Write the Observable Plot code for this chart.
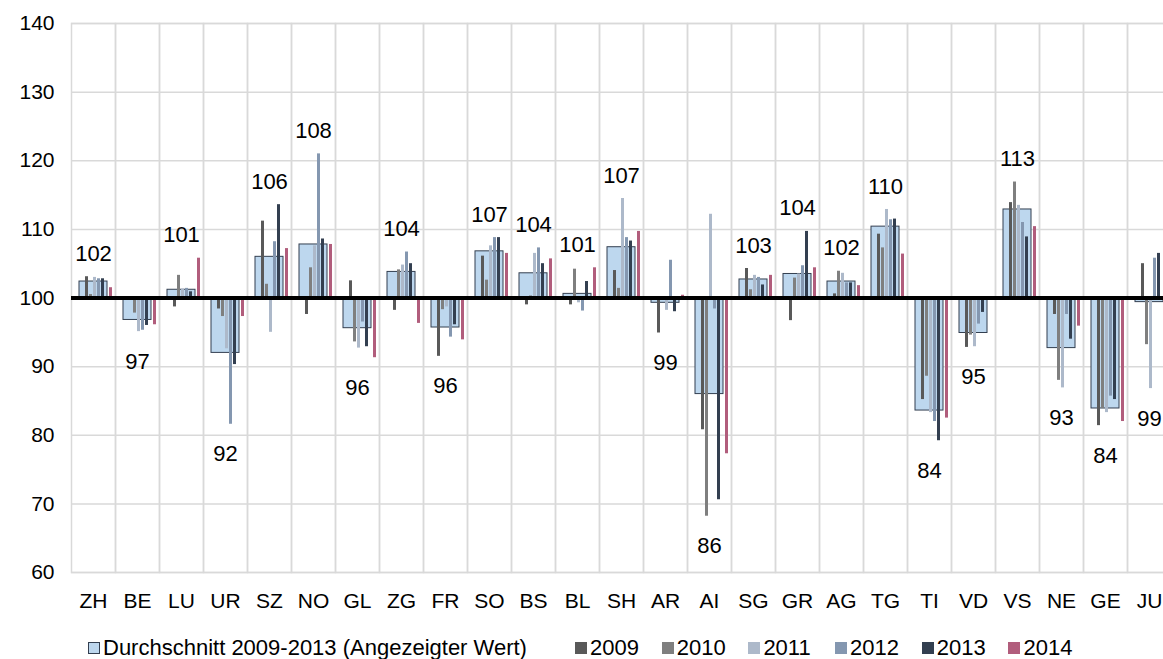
<!DOCTYPE html>
<html><head><meta charset="utf-8">
<script src="https://cdn.jsdelivr.net/npm/d3@7"></script>
<script src="https://cdn.jsdelivr.net/npm/@observablehq/plot@0.6"></script>
<style>
html,body{margin:0;padding:0;background:#fff;overflow:hidden;width:1163px;height:659px}
#wrap{position:relative;width:1163px;height:659px;overflow:hidden;font-family:"Liberation Sans",Arial,sans-serif}
#chart{width:1176px}
#legend{position:absolute;left:88px;top:636px;height:24px;display:flex;align-items:center;font-size:22px;color:#000;white-space:nowrap}
.item{display:flex;align-items:center}
.sw{width:12px;height:12px;margin-right:3px;box-sizing:border-box;flex:none}
</style></head><body><div id="wrap"><div id="chart"></div><div id="legend"></div></div>
<script>
const cantons = ["ZH","BE","LU","UR","SZ","NO","GL","ZG","FR","SO","BS","BL","SH","AR","AI","SG","GR","AG","TG","TI","VD","VS","NE","GE","JU"];
const avgLabel = "Durchschnitt 2009-2013 (Angezeigter Wert)";
const avg   = [102.4, 96.8, 101.2, 92.0, 106.0, 107.8, 95.6, 103.8, 95.7, 106.8, 103.6, 100.6, 107.4, 99.3, 86.0, 102.7, 103.5, 102.4, 110.4, 83.6, 94.9, 112.9, 92.7, 83.9, 99.4];
const v2009 = [103.1, 99.7, 98.7, 98.4, 111.2, 97.6, 102.5, 98.2, 91.5, 106.1, 99.0, 99.0, 104.0, 94.9, 80.8, 104.3, 96.7, 100.6, 109.3, 85.2, 92.8, 113.9, 97.6, 81.4, 105.0];
const v2010 = [100.5, 97.8, 103.3, 97.3, 102.0, 104.4, 93.6, 104.1, 98.3, 102.6, 100.3, 104.2, 101.4, 99.9, 68.2, 101.2, 102.9, 103.9, 107.3, 88.6, 94.6, 116.9, 88.0, 83.9, 93.2];
const v2011 = [103.0, 95.1, 101.3, 92.6, 95.0, 107.6, 92.7, 104.8, 98.7, 107.6, 106.5, 99.3, 114.5, 98.2, 112.2, 103.3, 103.5, 103.6, 112.9, 83.3, 92.9, 113.5, 86.9, 83.3, 86.8];
const v2012 = [102.8, 95.3, 101.4, 81.6, 108.2, 121.0, 96.5, 106.7, 94.3, 108.8, 107.3, 98.1, 108.8, 105.5, 98.4, 103.0, 104.7, 102.2, 111.4, 82.0, 96.2, 111.0, 97.6, 85.7, 105.8];
const v2013 = [102.8, 96.0, 100.9, 90.3, 113.6, 108.6, 92.9, 105.0, 96.1, 108.8, 105.0, 102.4, 108.3, 98.0, 70.6, 101.9, 109.7, 102.2, 111.5, 79.2, 97.9, 108.9, 94.0, 85.2, 106.5];
const v2014 = [101.5, 96.1, 105.8, 97.3, 107.2, 107.8, 91.3, 96.3, 93.9, 106.5, 105.7, 104.4, 109.7, 100.4, 77.3, 103.3, 104.4, 101.8, 106.4, 82.5, 99.9, 110.4, 95.9, 82.0, 101.0];
const years = ["2009","2010","2011","2012","2013","2014"];
const yTicks = [60, 70, 80, 90, 100, 110, 120, 130, 140];
const baseline = 100;

const yearValues = [v2009, v2010, v2011, v2012, v2013, v2014];
const yearColors = ["#595959","#7f7f7f","#adb9ca","#8497b0","#333f50","#b15d7c"];
const avgFill = "#bdd7ee", avgStroke = "#333f50";
const slots = ["2009","2010","2011","2012","2013","gap","2014"];

const avgRows = cantons.map((c, i) => ({
  canton: c, avg: avg[i],
  hi: d3.max(yearValues, s => s[i]),
  lo: d3.min(yearValues, s => s[i])
}));
const yearRows = cantons.flatMap((c, i) => years.map((y, j) => ({canton: c, year: y, value: yearValues[j][i]})));
const fmt = d => String(Math.round(d.avg));

const chart = Plot.plot({
  width: 1176, height: 620,
  marginLeft: 67, marginRight: 1, marginTop: 23, marginBottom: 48,
  style: {fontFamily: '"Liberation Sans", Arial, sans-serif', fontSize: "21px", color: "#000", background: "#fff", maxWidth: "none", overflow: "visible"},
  fx: {domain: cantons, padding: 0, axis: "bottom", label: null, tickSize: 0, tickPadding: 21},
  x: {domain: slots, axis: null, paddingInner: 0.23, paddingOuter: 1.485, align: 0.854},
  y: {domain: [60, 140], ticks: yTicks, label: null, tickSize: 0, tickPadding: 17},
  color: {domain: years, range: yearColors},
  marks: [
    Plot.ruleY(yTicks, {stroke: "#d9d9d9", strokeWidth: 1.5}),
    Plot.frame({stroke: "#d9d9d9", strokeWidth: 1.5}),
    Plot.barY(avgRows, {fx: "canton", y1: () => baseline, y2: "avg", fill: avgFill, stroke: avgStroke, strokeWidth: 1, insetLeft: 8, insetRight: 8}),
    Plot.barY(yearRows, {fx: "canton", x: "year", y1: () => baseline, y2: "value", fill: "year"}),
    Plot.ruleY([baseline], {stroke: "#000", strokeWidth: 4}),
    Plot.text(avgRows.filter(d => d.avg >= baseline), {fx: "canton", y: "hi", text: fmt, dy: -23, fontSize: 22, fill: "#000"}),
    Plot.text(avgRows.filter(d => d.avg < baseline), {fx: "canton", y: "lo", text: fmt, dy: 30, fontSize: 22, fill: "#000"})
  ]
});
document.getElementById("chart").appendChild(chart);

// legend
const legend = document.getElementById("legend");
const items = [{label: avgLabel, fill: avgFill, stroke: avgStroke, w: 487}]
  .concat(years.map((y, j) => ({label: y, fill: yearColors[j], stroke: null, w: 86.7})));
for (const it of items) {
  const el = document.createElement("div");
  el.className = "item";
  el.style.width = it.w + "px";
  const sw = document.createElement("div");
  sw.className = "sw";
  sw.style.background = it.fill;
  if (it.stroke) sw.style.border = "1px solid " + it.stroke;
  const tx = document.createElement("span");
  tx.textContent = it.label;
  el.appendChild(sw); el.appendChild(tx);
  legend.appendChild(el);
}
</script></body></html>
